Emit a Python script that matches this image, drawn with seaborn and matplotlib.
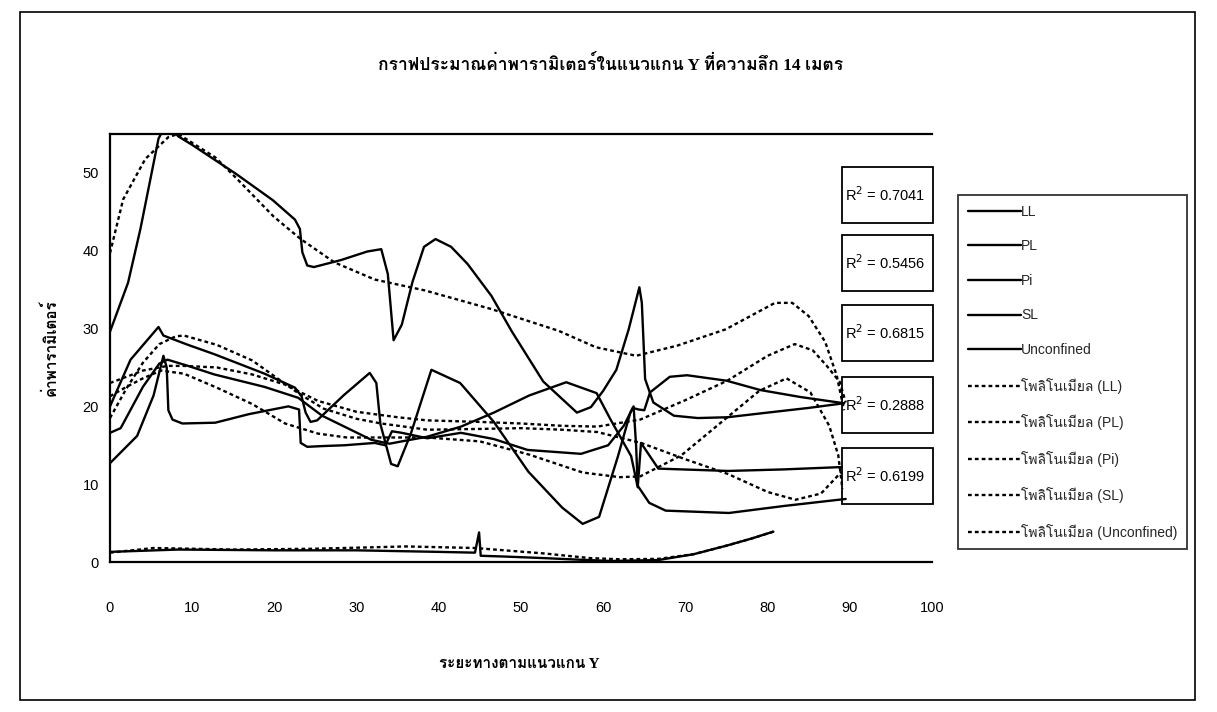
import numpy as np
import pandas as pd
import matplotlib
matplotlib.use("Agg")
import matplotlib.pyplot as plt
import seaborn as sns
from matplotlib import font_manager
from matplotlib.ft2font import FT2Font
from matplotlib.lines import Line2D
from matplotlib.patches import Rectangle

# ---------------- data ----------------
TITLE = "กราฟประมาณค่าพารามิเตอร์ในแนวแกน Y ที่ความลึก 14 เมตร"
XLABEL = "ระยะทางตามแนวแกน Y"
YLABEL = "ค่าพารามิเตอร์"
series_names = ["LL", "PL", "Pi", "SL", "Unconfined"]
trend_names = ["โพลิโนเมียล (LL)", "โพลิโนเมียล (PL)", "โพลิโนเมียล (Pi)",
               "โพลิโนเมียล (SL)", "โพลิโนเมียล (Unconfined)"]
r2_labels = ["0.7041", "0.5456", "0.6815", "0.2888", "0.6199"]
x_ticks = [0, 10, 20, 30, 40, 50, 60, 70, 80, 90, 100]
y_ticks = [0, 10, 20, 30, 40, 50]

x_LL = [0, 2.5, 5.9, 6.5, 9.5, 12.7, 18.8, 22.5, 23.3, 23.8, 24.4, 25.2, 28.4, 31.6, 32.4, 32.9,
        34.2, 35.0, 36.6, 39.1, 42.6, 46.7, 50.9, 55.0, 57.5, 59.5, 61.8, 63.3, 63.7, 64.0, 64.2,
        65.6, 67.6, 75.3, 82.0, 89.5]
y_LL = [20.0, 26.0, 30.2, 29.1, 27.9, 26.7, 24.2, 22.4, 21.3, 19.2, 18.0, 18.2, 21.4, 24.3, 23.0, 17.7,
        12.6, 12.3, 16.5, 24.7, 23.0, 18.0, 11.6, 7.0, 4.9, 5.8, 13.6, 19.2, 20.0, 15.0, 9.8,
        7.6, 6.6, 6.3, 7.2, 8.1]

x_PL = [0, 1.3, 4.0, 6.0, 7.0, 9.5, 12.7, 18.8, 22.9, 25.8, 31.8, 34.0, 36.0, 38.6, 42.7, 46.7,
        51.0, 55.5, 59.2, 60.9, 63.4, 64.2, 64.6, 66.7, 75.2, 82.0, 89.0]
y_PL = [16.6, 17.2, 22.5, 25.5, 26.0, 25.2, 24.1, 22.5, 21.1, 18.8, 15.7, 15.2, 15.6, 16.1, 17.4, 19.2,
        21.4, 23.1, 21.7, 18.3, 13.6, 9.6, 15.3, 12.0, 11.7, 11.9, 12.2]

x_Pi = [0, 3.3, 5.3, 6.5, 6.9, 7.1, 7.6, 8.8, 12.8, 16.9, 21.7, 23.0, 23.2, 24.0, 25.9, 28.5, 32.2,
        33.5, 34.3, 35.5, 38.6, 42.7, 46.7, 50.8, 57.3, 60.6, 62.5, 63.6, 64.3, 65.0, 65.7, 68.1,
        70.2, 75.0, 79.1, 84.0, 89.3]
y_Pi = [12.7, 16.2, 21.4, 26.5, 25.0, 19.5, 18.3, 17.8, 17.9, 19.0, 20.0, 19.6, 15.3, 14.8, 14.9, 15.0, 15.3,
        15.0, 16.8, 16.6, 15.9, 16.6, 15.8, 14.4, 13.9, 15.0, 17.5, 19.8, 19.6, 19.5, 21.8, 23.8,
        24.0, 23.3, 22.1, 21.2, 20.4]

x_SL = [0, 8.3, 20, 30, 40, 44.4, 44.9, 45.1, 48, 52.8, 57, 61, 66.7, 71, 75, 78, 80.7]
y_SL = [1.3, 1.6, 1.5, 1.5, 1.3, 1.2, 3.8, 0.8, 0.7, 0.5, 0.3, 0.13, 0.25, 1.0, 2.1, 3.0, 3.9]

x_Un = [0, 2.2, 3.7, 5.9, 6.5, 7.3, 8.3, 10.0, 12.0, 15.3, 19.8, 22.5, 23.1, 23.4, 24.0, 24.8, 28.1,
        31.3, 33.0, 33.8, 34.5, 35.5, 36.8, 38.2, 39.6, 41.5, 43.5, 46.4, 48.9, 52.7, 56.8, 58.5,
        60.0, 61.6, 63.1, 64.4, 64.7, 65.1, 66.1, 68.6, 71.5, 75.1, 80.0, 85.0, 89.3]
y_Un = [29.6, 35.9, 42.8, 54.4, 55.6, 56.0, 54.7, 53.6, 52.2, 49.9, 46.5, 44.0, 42.8, 39.8, 38.1, 37.9, 38.8,
        39.9, 40.2, 37.0, 28.5, 30.5, 36.0, 40.5, 41.5, 40.5, 38.3, 34.2, 29.6, 23.2, 19.2, 19.9,
        22.0, 24.7, 29.9, 35.3, 33.3, 23.5, 20.5, 18.8, 18.5, 18.6, 19.2, 19.8, 20.4]

tx_LL = [0, 2, 4, 6, 8, 9, 13, 17.3, 22.9, 26, 30, 33, 38.6, 45, 50, 55, 59.3, 64.6, 70, 75.2, 80,
         83.4, 86.5, 89]
ty_LL = [18.5, 22.3, 25.6, 28.0, 29.0, 29.1, 27.9, 25.9, 21.7, 19.7, 18.4, 17.8, 17.0, 17.1, 17.2, 17.0,
         16.7, 15.3, 13.2, 11.3, 9.0, 8.0, 8.8, 11.6]

tx_PL = [0, 2, 4, 7, 9, 13, 17.3, 21.3, 25.3, 30, 35, 38.6, 45, 50, 55, 59.3, 64.5, 70, 75.1, 80,
         83.3, 85.5, 87.2, 88.8, 89.5]
ty_PL = [23.0, 23.8, 24.6, 25.2, 25.2, 25.0, 24.1, 22.8, 20.7, 19.3, 18.6, 18.2, 18.0, 17.8, 17.5, 17.4,
         18.3, 20.8, 23.3, 26.5, 28.0, 27.2, 25.2, 23.1, 20.5]

tx_Pi = [0, 2, 4, 6.2, 9, 13, 17.3, 21.3, 25.3, 28.8, 33, 38.6, 45, 51, 57.5, 62, 64.5, 69.5, 75.1,
         79, 82.3, 85.2, 87.5, 88.6, 89.1]
ty_Pi = [21.3, 22.5, 23.6, 24.6, 24.2, 22.4, 20.3, 17.8, 16.5, 16.0, 16.0, 16.0, 15.5, 13.8, 11.5, 10.9,
         11.0, 13.7, 18.6, 22.0, 23.6, 21.8, 17.5, 13.7, 9.4]

tx_SL = [0, 5.3, 15, 24.8, 36, 44.4, 48, 52.8, 58.4, 62, 66.7, 71, 75, 78, 80.7]
ty_SL = [1.2, 1.8, 1.6, 1.7, 2.0, 1.8, 1.5, 1.1, 0.5, 0.35, 0.4, 1.0, 2.1, 3.0, 3.9]

tx_Un = [0, 1.6, 4.3, 7.1, 8.3, 12.8, 15.3, 19.9, 23.2, 27.3, 32.2, 38.3, 46.4, 54.6, 59.1, 64.0,
         69, 74.9, 80.9, 83, 85, 87, 88.4, 89.3]
ty_Un = [39.7, 46.6, 51.8, 54.6, 55.0, 52.0, 49.4, 44.4, 41.5, 38.5, 36.3, 34.9, 32.5, 29.7, 27.6, 26.5,
         27.8, 29.9, 33.3, 33.3, 31.6, 28.3, 24.0, 19.5]

# ---------------- fonts ----------------
sns.set_theme(style="white")


def find_thai_family():
    probe = "กราฟค่าพโนเมียล"
    found = []
    for f in font_manager.fontManager.ttflist:
        try:
            cmap = FT2Font(f.fname).get_charmap()
        except Exception:
            continue
        if all(ord(c) in cmap for c in probe):
            found.append(f.name)
    return found[0] if found else None


THAI = find_thai_family()
sans = ["Liberation Sans"] + ([THAI] if THAI else []) + ["DejaVu Sans"]
serif = ["Liberation Serif"] + ([THAI] if THAI else []) + ["DejaVu Sans"]
plt.rcParams["font.family"] = sans

# ---------------- figure ----------------
W, H = 1217, 712
fig = plt.figure(figsize=(W / 100, H / 100), dpi=100)
fig.patch.set_facecolor("white")

ax_l, ax_r, ax_t, ax_b = 110, 932, 134, 562
ax = fig.add_axes([ax_l / W, 1 - ax_b / H, (ax_r - ax_l) / W, (ax_b - ax_t) / H])
ax.set_facecolor("white")

solid = [(x_LL, y_LL), (x_PL, y_PL), (x_Pi, y_Pi), (x_SL, y_SL), (x_Un, y_Un)]
trend = [(tx_LL, ty_LL), (tx_PL, ty_PL), (tx_Pi, ty_Pi), (tx_SL, ty_SL), (tx_Un, ty_Un)]
dots = (0, (1.6, 1.3))

for (xs, ys), name in zip(trend, trend_names):
    df = pd.DataFrame({"x": xs, "y": ys})
    sns.lineplot(data=df, x="x", y="y", ax=ax, sort=False, estimator=None,
                 color="black", linewidth=1.7, linestyle=dots)
for (xs, ys), name in zip(solid, series_names):
    df = pd.DataFrame({"x": xs, "y": ys})
    sns.lineplot(data=df, x="x", y="y", ax=ax, sort=False, estimator=None,
                 color="black", linewidth=1.7)

ax.set_xlim(0, 100)
ax.set_ylim(0, 55)
ax.set_xticks(x_ticks)
ax.set_yticks(y_ticks)
ax.set_xlabel("")
ax.set_ylabel("")
for side in ["left", "bottom", "top"]:
    ax.spines[side].set_visible(True)
    ax.spines[side].set_color("black")
    ax.spines[side].set_linewidth(1.6)
ax.spines["right"].set_visible(False)
ax.tick_params(axis="x", direction="out", length=5, width=1.2, color="black",
               pad=23, labelsize=10.5, labelcolor="black")
ax.tick_params(axis="y", direction="out", length=5, width=1.2, color="black",
               pad=3, labelsize=10.5, labelcolor="black")
ax.grid(False)

# R^2 boxes
box_w, box_h = 91, 56
box_tops = [167, 235, 305, 377, 448]
for lab, top in zip(r2_labels, box_tops):
    x0 = (842 - ax_l) / (ax_r - ax_l)
    y0 = (ax_b - (top + box_h)) / (ax_b - ax_t)
    ax.add_patch(Rectangle((x0, y0), box_w / (ax_r - ax_l), box_h / (ax_b - ax_t),
                           transform=ax.transAxes, fill=False, edgecolor="black",
                           linewidth=1.3, clip_on=False, zorder=5))
    ax.text(x0 + 3 / (ax_r - ax_l), y0 + (box_h / 2) / (ax_b - ax_t),
            "R$^2$ = " + lab, transform=ax.transAxes, ha="left", va="center",
            fontsize=10.5, color="black", zorder=6)

# titles
fig.text(611 / W, 1 - 65 / H, TITLE, ha="center", va="center", fontsize=12.5,
         fontweight="bold", family=serif, color="black")
fig.text(519 / W, 1 - 665 / H, XLABEL, ha="center", va="center", fontsize=11,
         fontweight="bold", family=serif, color="black")
fig.text(50 / W, 1 - 348 / H, YLABEL, ha="center", va="center", fontsize=11,
         fontweight="bold", family=serif, color="black", rotation=90)

# legend
handles = [Line2D([], [], color="black", lw=1.7) for _ in series_names] + \
          [Line2D([], [], color="black", lw=1.7, linestyle=dots) for _ in trend_names]
labels = series_names + trend_names
leg = fig.legend(handles, labels, loc="upper left",
                 bbox_to_anchor=(958 / W, 1 - 195 / H), frameon=True, fancybox=False,
                 edgecolor="black", fontsize=10, handlelength=3.8, handletextpad=0.05,
                 labelspacing=1.48, borderpad=0.7, borderaxespad=0)
leg.get_frame().set_linewidth(1.3)

# outer chart border
fig.add_artist(Rectangle((20 / W, 1 - 700 / H), (1195 - 20) / W, (700 - 12) / H,
                         transform=fig.transFigure, fill=False, edgecolor="black",
                         linewidth=1.2))

fig.savefig("out.png", dpi=100, facecolor="white")
